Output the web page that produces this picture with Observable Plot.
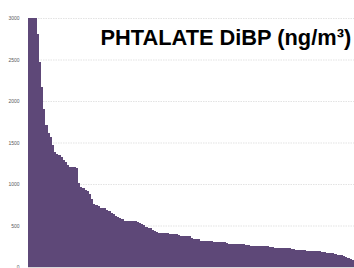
<!DOCTYPE html>
<html>
<head>
<meta charset="utf-8">
<script src="https://cdn.jsdelivr.net/npm/d3@7"></script>
<script src="https://cdn.jsdelivr.net/npm/@observablehq/plot@0.6"></script>
<style>
  html, body { margin: 0; padding: 0; background: #fff; }
  #chart { width: 354px; height: 268px; overflow: hidden; }
</style>
</head>
<body>
<div id="chart"></div>
<script>
const title = "PHTALATE DiBP (ng/m³)";
const yTicks = [0, 500, 1000, 1500, 2000, 2500, 3000];
// Concentrations sorted in descending order (one value per sample)
const values = [
  3000, 3000, 3000, 3000, 2807, 2470, 2169, 1904, 1711, 1614,
  1566, 1470, 1386, 1361, 1350, 1325, 1289, 1265, 1229, 1210,
  1205, 1200, 1195, 1012, 964, 950, 928, 910, 880, 819,
  755, 747, 740, 715, 711, 705, 690, 675, 645, 635,
  610, 600, 590, 580, 560, 558, 556, 554, 552, 550,
  545, 535, 518, 510, 480, 470, 465, 440, 434, 420,
  412, 410, 408, 406, 404, 400, 398, 396, 392, 380,
  376, 374, 372, 370, 368, 345, 340, 338, 335, 318,
  315, 313, 311, 310, 308, 302, 301, 300, 299, 298,
  296, 294, 282, 280, 279, 278, 277, 276, 275, 273,
  270, 260, 258, 256, 255, 254, 253, 252, 250, 249,
  248, 245, 235, 233, 232, 231, 230, 229, 228, 226,
  224, 222, 212, 210, 208, 206, 205, 203, 196, 195,
  194, 193, 192, 190, 188, 186, 175, 172, 170, 167,
  163, 155, 150, 146, 140, 130, 118, 110, 100, 90
];
const rows = values.map((v, i) => ({i, v}));

const plot = Plot.plot({
  width: 354,
  height: 268,
  marginLeft: 28,
  marginRight: 0,
  marginTop: 18,
  marginBottom: 1,
  style: {fontFamily: "'Liberation Sans', Arial, sans-serif", background: "#fff"},
  x: {domain: [0, values.length], axis: null},
  y: {domain: [0, 3000], ticks: yTicks, label: null},
  marks: [
    Plot.ruleY(yTicks, {stroke: "#e3e3e3", strokeWidth: 1, strokeDasharray: "1.5,1"}),
    Plot.rectY(rows, {x1: "i", x2: d => d.i + 1, y: "v", fill: "#5e4878", shapeRendering: "crispEdges"}),
    Plot.ruleY([0], {stroke: "#d9d9d9", strokeWidth: 1}),
    Plot.axisY(yTicks, {tickSize: 0, tickPadding: 9, fontSize: 5, fill: "#595959", tickFormat: d => String(d)}),
    Plot.text([title], {frameAnchor: "top-left", dx: 72, dy: 20, textAnchor: "start", lineAnchor: "middle", fontSize: 21.8, fontWeight: "bold", fill: "#000"})
  ]
});
document.getElementById("chart").appendChild(plot);
</script>
</body>
</html>
